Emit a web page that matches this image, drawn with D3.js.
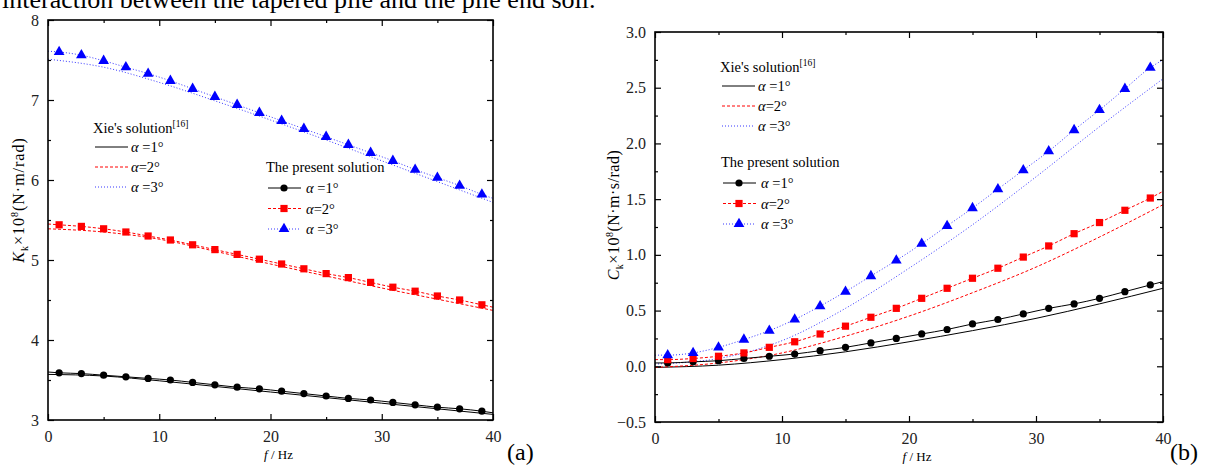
<!DOCTYPE html>
<html>
<head>
<meta charset="utf-8">
<script src="https://cdn.jsdelivr.net/npm/d3@7"></script>
<style>
  body { margin: 0; background: #fff; }
  svg { display: block; font-family: "Liberation Serif", "Times New Roman", serif; }
</style>
</head>
<body>
<svg id="chart" width="1211" height="468"></svg>
<script>
//frequencies
var freqXie = [0, 5, 10, 15, 20, 25, 30, 35, 40];
var freqPresent = [0, 1, 3, 5, 7, 9, 11, 13, 15, 17, 19, 21, 23, 25, 27, 29, 31, 33, 35, 37, 39, 40];

//(a) K_k, Xie's solution
var kXie1 = [3.57, 3.55, 3.49, 3.42, 3.35, 3.28, 3.21, 3.14, 3.07];
var kXie2 = [5.39, 5.35, 5.26, 5.11, 4.95, 4.80, 4.65, 4.51, 4.37];
var kXie3 = [7.51, 7.41, 7.22, 6.99, 6.75, 6.50, 6.24, 5.98, 5.72];
//(a) K_k, present solution (first and last value are the line ends, the rest have markers)
var kPres1 = [3.60, 3.59, 3.58, 3.56, 3.54, 3.52, 3.50, 3.47, 3.44, 3.41, 3.39, 3.36, 3.33, 3.30, 3.27, 3.25, 3.22, 3.19, 3.16, 3.14, 3.11, 3.09];
var kPres2 = [5.45, 5.44, 5.42, 5.39, 5.35, 5.30, 5.25, 5.19, 5.13, 5.07, 5.01, 4.95, 4.89, 4.83, 4.78, 4.72, 4.66, 4.61, 4.55, 4.50, 4.44, 4.41];
var kPres3 = [7.61, 7.60, 7.56, 7.49, 7.41, 7.33, 7.24, 7.14, 7.04, 6.94, 6.84, 6.74, 6.64, 6.54, 6.44, 6.34, 6.24, 6.13, 6.03, 5.93, 5.82, 5.77];

//(b) C_k, Xie's solution
var cXie1 = [-0.01, 0.01, 0.06, 0.13, 0.22, 0.32, 0.43, 0.56, 0.70];
var cXie2 = [-0.01, 0.03, 0.12, 0.27, 0.45, 0.66, 0.89, 1.16, 1.45];
var cXie3 = [0.02, 0.07, 0.23, 0.52, 0.88, 1.27, 1.70, 2.15, 2.58];
//(b) C_k, present solution
var cPres1 = [0.03, 0.03, 0.04, 0.05, 0.07, 0.09, 0.11, 0.14, 0.17, 0.21, 0.25, 0.29, 0.33, 0.38, 0.42, 0.47, 0.52, 0.56, 0.61, 0.67, 0.73, 0.76];
var cPres2 = [0.06, 0.06, 0.07, 0.09, 0.12, 0.17, 0.22, 0.29, 0.36, 0.44, 0.52, 0.61, 0.70, 0.79, 0.88, 0.98, 1.08, 1.19, 1.29, 1.40, 1.51, 1.57];
var cPres3 = [0.10, 0.10, 0.12, 0.17, 0.24, 0.32, 0.42, 0.54, 0.67, 0.81, 0.95, 1.10, 1.26, 1.42, 1.59, 1.76, 1.93, 2.12, 2.30, 2.49, 2.68, 2.75];

//ticks
var xMajor = [0, 10, 20, 30, 40];
var xMinor = [5, 15, 25, 35];
var kMajor = [3, 4, 5, 6, 7, 8];
var kMinor = [3.5, 4.5, 5.5, 6.5, 7.5];
var cMajor = [-0.5, 0, 0.5, 1, 1.5, 2, 2.5, 3];
var cMinor = [-0.25, 0.25, 0.75, 1.25, 1.75, 2.25, 2.75];

var alphaLabels = [" =1°", "=2°", " =3°"];

//series styles
var styles = [
  { color: "#000", fill: "#000", dash: null, marker: "circle" },
  { color: "#ff0000", fill: "#ff0000", dash: "3,2", marker: "square" },
  { color: "#3636ff", fill: "#0000ff", dash: "1,2", marker: "triangle" }
];

var serif = "'Liberation Serif', 'Times New Roman', serif";
var svg = d3.select("#chart");

//caption text cut at the top of the figure
svg.append("text")
  .attr("x", 2).attr("y", 8)
  .style("font-size", "26px")
  .text("interaction between the tapered pile and the pile end soil.");

function drawMarker(g, type, cx, cy, color) {
  if (type == "circle") {
    g.append("circle").attr("cx", cx).attr("cy", cy).attr("r", 3.6).attr("fill", color);
  } else if (type == "square") {
    g.append("rect").attr("x", cx - 3.6).attr("y", cy - 3.6).attr("width", 7.2).attr("height", 7.2).attr("fill", color);
  } else {
    g.append("path")
      .attr("transform", "translate(" + cx + "," + cy + ")")
      .attr("d", d3.symbol().type(d3.symbolTriangle).size(50)())
      .attr("fill", color);
  }
}

function panel(p) {
  var x = d3.scaleLinear().domain([0, 40]).range([p.left, p.right]);
  var y = d3.scaleLinear().domain(p.domain).range([p.bottom, p.top]);
  var g = svg.append("g");

  var line = d3.line()
    .x(function(d) { return x(d[0]); })
    .y(function(d) { return y(d[1]); })
    .curve(d3.curveMonotoneX);

  //Xie's solution lines
  p.xie.forEach(function(vals, i) {
    g.append("path")
      .attr("d", line(d3.zip(freqXie, vals)))
      .attr("fill", "none")
      .attr("stroke", styles[i].color)
      .attr("stroke-width", 1)
      .attr("stroke-dasharray", styles[i].dash);
  });

  //present solution lines + markers
  p.present.forEach(function(vals, i) {
    g.append("path")
      .attr("d", line(d3.zip(freqPresent, vals)))
      .attr("fill", "none")
      .attr("stroke", styles[i].color)
      .attr("stroke-width", 1)
      .attr("stroke-dasharray", styles[i].dash);
    for (var j = 1; j < freqPresent.length - 1; j++) {
      drawMarker(g, styles[i].marker, x(freqPresent[j]), y(vals[j]), styles[i].fill);
    }
  });

  //axes, ticks pointing inward
  var ax = svg.append("g");
  ax.append("g").attr("transform", "translate(0," + p.bottom + ")")
    .call(d3.axisBottom(x).tickValues(xMajor).tickSize(-6).tickPadding(11).tickFormat(d3.format("d")));
  ax.append("g").attr("transform", "translate(0," + p.bottom + ")")
    .call(d3.axisBottom(x).tickValues(xMinor).tickSize(-3).tickFormat(""));
  ax.append("g").attr("transform", "translate(0," + p.top + ")")
    .call(d3.axisTop(x).tickValues(xMajor).tickSize(-6).tickFormat(""));
  ax.append("g").attr("transform", "translate(0," + p.top + ")")
    .call(d3.axisTop(x).tickValues(xMinor).tickSize(-3).tickFormat(""));
  ax.append("g").attr("transform", "translate(" + p.left + ",0)")
    .call(d3.axisLeft(y).tickValues(p.major).tickSize(-6).tickPadding(9).tickFormat(d3.format(p.fmt)));
  ax.append("g").attr("transform", "translate(" + p.left + ",0)")
    .call(d3.axisLeft(y).tickValues(p.minor).tickSize(-3).tickFormat(""));
  ax.append("g").attr("transform", "translate(" + p.right + ",0)")
    .call(d3.axisRight(y).tickValues(p.major).tickSize(-6).tickFormat(""));
  ax.append("g").attr("transform", "translate(" + p.right + ",0)")
    .call(d3.axisRight(y).tickValues(p.minor).tickSize(-3).tickFormat(""));
  ax.selectAll(".domain").remove();
  ax.selectAll(".tick line").attr("stroke", "#000").attr("stroke-width", 1.2);
  ax.selectAll("text")
    .attr("fill", "#222")
    .style("font-family", serif)
    .style("font-size", "16px");

  //frame
  svg.append("rect")
    .attr("x", p.left).attr("y", p.top)
    .attr("width", p.right - p.left).attr("height", p.bottom - p.top)
    .attr("fill", "none").attr("stroke", "#000").attr("stroke-width", 1.6);

  //x label
  var xl = svg.append("text")
    .attr("x", (p.left + p.right) / 2 + 8).attr("y", p.bottom + 39)
    .attr("text-anchor", "middle").style("font-size", "13px");
  xl.append("tspan").style("font-style", "italic").text("f");
  xl.append("tspan").text(" / Hz");

  //y label
  var yl = svg.append("text")
    .attr("transform", "translate(" + p.yLabelX + "," + p.yLabelY + ") rotate(-90)")
    .attr("text-anchor", "middle")
    .style("font-size", "16px")
    .style("letter-spacing", p.yLabelSpacing);
  yl.append("tspan").style("font-style", "italic").text(p.sym);
  yl.append("tspan").attr("dy", 4).style("font-size", "10px").text("k");
  yl.append("tspan").attr("dy", -4).text("×10");
  yl.append("tspan").attr("dy", -6).style("font-size", "10px").text("8");
  yl.append("tspan").attr("dy", 6).text(p.unit);

  //panel letter
  svg.append("text")
    .attr("x", p.letterX).attr("y", 460)
    .style("font-size", "24px").text(p.letter);

  //legends
  var lg = svg.append("g").style("font-size", "14.5px");
  var t1 = lg.append("text").attr("x", p.leg1.x).attr("y", p.leg1.y);
  t1.append("tspan").text("Xie's solution");
  t1.append("tspan").attr("dy", -6).style("font-size", "9.5px").text("[16]");
  styles.forEach(function(s, i) {
    var ry = p.leg1.y + 14 + i * 20;
    lg.append("line")
      .attr("x1", p.leg1.x + 2).attr("x2", p.leg1.x + 35)
      .attr("y1", ry).attr("y2", ry)
      .attr("stroke", s.color).attr("stroke-width", 1).attr("stroke-dasharray", s.dash);
    var t = lg.append("text").attr("x", p.leg1.x + 38).attr("y", ry + 5);
    t.append("tspan").style("font-style", "italic").text("α");
    t.append("tspan").text(alphaLabels[i]);
  });

  lg.append("text").attr("x", p.leg2.x).attr("y", p.leg2.y).text("The present solution");
  styles.forEach(function(s, i) {
    var ry = p.leg2.y + 16 + i * 20.5;
    lg.append("line")
      .attr("x1", p.leg2.x + 2).attr("x2", p.leg2.x + 35)
      .attr("y1", ry).attr("y2", ry)
      .attr("stroke", s.color).attr("stroke-width", 1).attr("stroke-dasharray", s.dash);
    drawMarker(lg, s.marker, p.leg2.x + 18, ry, s.fill);
    var t = lg.append("text").attr("x", p.leg2.x + 40).attr("y", ry + 5);
    t.append("tspan").style("font-style", "italic").text("α");
    t.append("tspan").text(alphaLabels[i]);
  });
}

panel({
  left: 48, right: 493, top: 20, bottom: 420,
  domain: [3, 8], major: kMajor, minor: kMinor, fmt: "d",
  xie: [kXie1, kXie2, kXie3], present: [kPres1, kPres2, kPres3],
  sym: "K", unit: "(N·m/rad)", yLabelX: 24, yLabelY: 200, yLabelSpacing: "1px",
  letter: "(a)", letterX: 507,
  leg1: { x: 93, y: 133 }, leg2: { x: 266, y: 172 }
});

panel({
  left: 655, right: 1163, top: 32, bottom: 422,
  domain: [-0.5, 3], major: cMajor, minor: cMinor, fmt: ".1f",
  xie: [cXie1, cXie2, cXie3], present: [cPres1, cPres2, cPres3],
  sym: "C", unit: "(N·m·s/rad)", yLabelX: 619, yLabelY: 215, yLabelSpacing: "0.5px",
  letter: "(b)", letterX: 1170,
  leg1: { x: 720, y: 72 }, leg2: { x: 721, y: 167 }
});
</script>
</body>
</html>
